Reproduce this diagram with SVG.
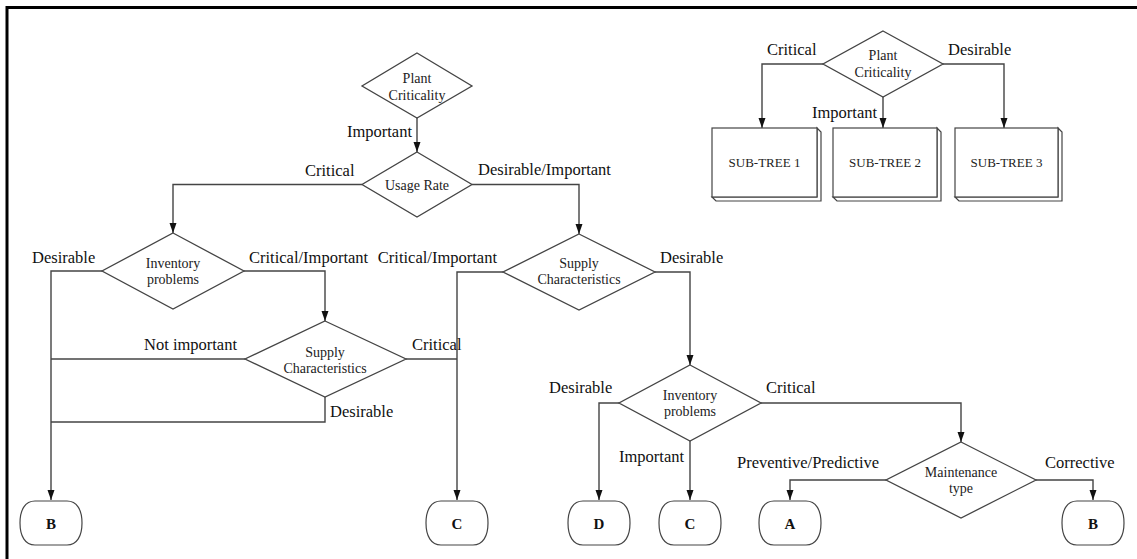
<svg xmlns="http://www.w3.org/2000/svg" width="1137" height="559" viewBox="0 0 1137 559">
  <style>
    .frame { stroke: #000; stroke-width: 3; fill: none; }
    .dec { fill: #fff; stroke: #444; stroke-width: 1.3; }
    .term { fill: #fff; stroke: #444; stroke-width: 1.2; }
    .box { fill: #fff; stroke: #444; stroke-width: 1.2; }
    .edge { fill: none; stroke: #444; stroke-width: 1.4; }
    .arrow { marker-end: url(#head); }
    .in { font-family: "Liberation Serif", "Times New Roman", serif; font-size: 14px; fill: #222; text-anchor: middle; }
    .lbl { font-family: "Liberation Serif", "Times New Roman", serif; font-size: 16.5px; fill: #111; }
    .end { text-anchor: end; }
    .tl { font-family: "Liberation Serif", "Times New Roman", serif; font-size: 15px; font-weight: bold; fill: #111; text-anchor: middle; }
    .st { font-family: "Liberation Serif", "Times New Roman", serif; font-size: 13px; fill: #222; text-anchor: middle; }
  </style>
  <defs>
    <marker id="head" markerUnits="userSpaceOnUse" markerWidth="11" markerHeight="8" refX="10" refY="3.5" orient="auto">
      <path d="M0,0 L10,3.5 L0,7 z" fill="#111"/>
    </marker>
  </defs>

  <rect width="1137" height="559" fill="#fff"/>
  <!-- page frame -->
  <path class="frame" d="M7,559 V7.5 H1137"/>

  <!-- connectors -->
  <g id="connectors">
    <polyline class="edge arrow" points="417,118 417,152"/>
    <polyline class="edge arrow" points="362,184.5 173,184.5 173,233"/>
    <polyline class="edge arrow" points="472,184.5 579,184.5 579,234"/>
    <polyline class="edge arrow" points="102,271 51,271 51,500"/>
    <polyline class="edge arrow" points="244,271 325,271 325,321"/>
    <polyline class="edge" points="245,359 51,359"/>
    <polyline class="edge" points="406,359 457,359"/>
    <polyline class="edge" points="325,397 325,422 51,422"/>
    <polyline class="edge arrow" points="503,272 457,272 457,500"/>
    <polyline class="edge arrow" points="655,272 690,272 690,365"/>
    <polyline class="edge arrow" points="619,403 599,403 599,500"/>
    <polyline class="edge arrow" points="690,441 690,500"/>
    <polyline class="edge arrow" points="761,403 961,403 961,442"/>
    <polyline class="edge arrow" points="886,480 790,480 790,500"/>
    <polyline class="edge arrow" points="1036,480 1093,480 1093,500"/>
    <polyline class="edge arrow" points="823,64 762,64 762,128"/>
    <polyline class="edge arrow" points="883,97 883,128"/>
    <polyline class="edge arrow" points="943,64 1004,64 1004,128"/>
  </g>

  <!-- connector labels -->
  <g id="labels">
    <text class="lbl end" x="412" y="137">Important</text>
    <text class="lbl" x="305" y="176">Critical</text>
    <text class="lbl" x="478" y="175">Desirable/Important</text>
    <text class="lbl" x="32" y="263">Desirable</text>
    <text class="lbl" x="249" y="263">Critical/Important</text>
    <text class="lbl end" x="497" y="263">Critical/Important</text>
    <text class="lbl" x="660" y="263">Desirable</text>
    <text class="lbl" x="144" y="350">Not important</text>
    <text class="lbl" x="412" y="350">Critical</text>
    <text class="lbl" x="330" y="417">Desirable</text>
    <text class="lbl" x="549" y="393">Desirable</text>
    <text class="lbl" x="766" y="393">Critical</text>
    <text class="lbl" x="619" y="462">Important</text>
    <text class="lbl" x="737" y="468">Preventive/Predictive</text>
    <text class="lbl" x="1045" y="468">Corrective</text>
    <text class="lbl" x="767" y="55">Critical</text>
    <text class="lbl" x="948" y="55">Desirable</text>
    <text class="lbl" x="812" y="118">Important</text>
  </g>

  <!-- decision nodes -->
  <g id="plant-criticality">
    <polygon class="dec" points="417,53 472,86 417,118 362,86"/>
    <text class="in" x="417" y="83">Plant</text>
    <text class="in" x="417" y="100">Criticality</text>
  </g>
  <g id="usage-rate">
    <polygon class="dec" points="417,152 472,184.5 417,217 362,184.5"/>
    <text class="in" x="417" y="190">Usage Rate</text>
  </g>
  <g id="inventory-problems-1">
    <polygon class="dec" points="173,233 244,271 173,309 102,271"/>
    <text class="in" x="173" y="268">Inventory</text>
    <text class="in" x="173" y="284">problems</text>
  </g>
  <g id="supply-characteristics-1">
    <polygon class="dec" points="579,234 655,272 579,310 503,272"/>
    <text class="in" x="579" y="268">Supply</text>
    <text class="in" x="579" y="284">Characteristics</text>
  </g>
  <g id="supply-characteristics-2">
    <polygon class="dec" points="325,321 406,359 325,397 245,359"/>
    <text class="in" x="325" y="357">Supply</text>
    <text class="in" x="325" y="373">Characteristics</text>
  </g>
  <g id="inventory-problems-2">
    <polygon class="dec" points="690,365 761,403 690,441 619,403"/>
    <text class="in" x="690" y="400">Inventory</text>
    <text class="in" x="690" y="416">problems</text>
  </g>
  <g id="maintenance-type">
    <polygon class="dec" points="961,442 1036,480 961,518 886,480"/>
    <text class="in" x="961" y="477">Maintenance</text>
    <text class="in" x="961" y="493">type</text>
  </g>
  <g id="plant-criticality-top">
    <polygon class="dec" points="883,31 943,64 883,97 823,64"/>
    <text class="in" x="883" y="60">Plant</text>
    <text class="in" x="883" y="77">Criticality</text>
  </g>

  <!-- sub-tree boxes -->
  <g id="sub-tree-1">
    <polygon class="box" points="817,128 821,132 821,201 716,201 712,197 817,197"/>
    <rect class="box" x="712" y="128" width="105" height="69"/>
    <text class="st" x="764.5" y="167">SUB-TREE 1</text>
  </g>
  <g id="sub-tree-2">
    <polygon class="box" points="937,128 941,132 941,201 837,201 833,197 937,197"/>
    <rect class="box" x="833" y="128" width="104" height="69"/>
    <text class="st" x="885" y="167">SUB-TREE 2</text>
  </g>
  <g id="sub-tree-3">
    <polygon class="box" points="1058,128 1062,132 1062,201 959,201 955,197 1058,197"/>
    <rect class="box" x="955" y="128" width="103" height="69"/>
    <text class="st" x="1006.5" y="167">SUB-TREE 3</text>
  </g>

  <!-- terminal nodes -->
  <g id="term-b-left">
    <path class="term" d="M35,501 H67 C77,501 82,510 82,523 C82,536 77,545 67,545 H35 C25,545 20,536 20,523 C20,510 25,501 35,501 Z"/>
    <text class="tl" x="51" y="528.5">B</text>
  </g>
  <g id="term-c-left">
    <path class="term" d="M441,501 H473 C483,501 488,510 488,523 C488,536 483,545 473,545 H441 C431,545 426,536 426,523 C426,510 431,501 441,501 Z"/>
    <text class="tl" x="457" y="528.5">C</text>
  </g>
  <g id="term-d">
    <path class="term" d="M583,501 H615 C625,501 630,510 630,523 C630,536 625,545 615,545 H583 C573,545 568,536 568,523 C568,510 573,501 583,501 Z"/>
    <text class="tl" x="599" y="528.5">D</text>
  </g>
  <g id="term-c-right">
    <path class="term" d="M674,501 H706 C716,501 721,510 721,523 C721,536 716,545 706,545 H674 C664,545 659,536 659,523 C659,510 664,501 674,501 Z"/>
    <text class="tl" x="690" y="528.5">C</text>
  </g>
  <g id="term-a">
    <path class="term" d="M774,501 H806 C816,501 821,510 821,523 C821,536 816,545 806,545 H774 C764,545 759,536 759,523 C759,510 764,501 774,501 Z"/>
    <text class="tl" x="790" y="528.5">A</text>
  </g>
  <g id="term-b-right">
    <path class="term" d="M1077,501 H1109 C1119,501 1124,510 1124,523 C1124,536 1119,545 1109,545 H1077 C1067,545 1062,536 1062,523 C1062,510 1067,501 1077,501 Z"/>
    <text class="tl" x="1093" y="528.5">B</text>
  </g>
</svg>
